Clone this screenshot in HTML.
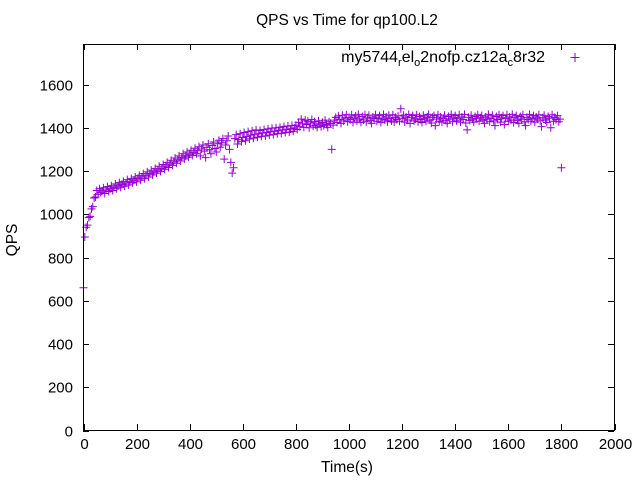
<!DOCTYPE html>
<html><head><meta charset="utf-8"><style>
body{margin:0;background:#fff}
svg{display:block;font-family:"Liberation Sans",sans-serif}
</style></head><body>
<svg id="chart" width="640" height="480">
<rect width="640" height="480" fill="#fff"/>
<text x="347" y="25" text-anchor="middle" font-size="15.5">QPS vs Time for qp100.L2</text>
<g id="axes"></g>
<g id="marks"></g>
<rect x="83.5" y="44.5" width="531" height="386" fill="none" stroke="#000"/>
<text x="545" y="62" text-anchor="end" font-size="16">my5744<tspan font-size="11" dy="4">r</tspan><tspan dy="-4">el</tspan><tspan font-size="11" dy="4">o</tspan><tspan dy="-4">2nofp.cz12a</tspan><tspan font-size="11" dy="4">c</tspan><tspan dy="-4">8r32</tspan></text>
<path d="M570.5 57.5h9M575 53v9" stroke="#9400d3"/>
<text x="347" y="472" text-anchor="middle" font-size="15.5">Time(s)</text>
<text transform="translate(17,240) rotate(-90)" text-anchor="middle" font-size="15.5">QPS</text>
</svg>
<script>
const xTicks=[0,200,400,600,800,1000,1200,1400,1600,1800,2000];
const yTicks=[0,200,400,600,800,1000,1200,1400,1600];
const timeStep=5;
const qps=[
660,895,940,950,985,990,1025,1035,1075,1080,1110,1092,1118,1100,1108,1122,1096,1112,1128,1105,
1118,1132,1110,1124,1140,1118,1132,1146,1125,1138,1152,1130,1144,1160,1136,1150,1165,1145,1158,1172,
1150,1166,1180,1158,1172,1188,1165,1180,1196,1172,1188,1204,1182,1196,1212,1190,1204,1222,1198,1212,
1230,1208,1222,1240,1216,1232,1250,1226,1242,1260,1236,1252,1270,1246,1262,1280,1256,1270,1288,1264,
1278,1296,1272,1286,1305,1280,1294,1312,1270,1302,1320,1292,1262,1310,1326,1298,1280,1318,1334,1304,
1288,1326,1342,1310,1330,1350,1255,1320,1340,1362,1300,1240,1190,1215,1350,1368,1325,1345,1372,1336,
1355,1378,1340,1360,1382,1348,1366,1386,1352,1370,1390,1356,1372,1388,1360,1376,1392,1362,1378,1395,
1366,1382,1398,1368,1384,1400,1372,1388,1402,1374,1390,1405,1378,1392,1408,1380,1394,1410,1384,1398,
1412,1392,1425,1405,1440,1418,1402,1435,1415,1430,1400,1422,1438,1408,1428,1412,1402,1432,1418,1405,
1425,1410,1435,1415,1402,1428,1420,1300,1412,1435,1448,1425,1455,1438,1420,1458,1432,1445,1460,1428,
1448,1438,1460,1425,1445,1455,1432,1462,1440,1425,1452,1436,1460,1428,1446,1458,1434,1420,1450,1442,
1460,1430,1445,1456,1425,1440,1462,1436,1450,1428,1458,1442,1432,1460,1426,1448,1438,1455,1430,1488,
1444,1458,1426,1450,1436,1462,1420,1446,1456,1432,1440,1460,1428,1452,1438,1424,1458,1444,1430,1450,
1462,1436,1422,1448,1456,1410,1440,1460,1430,1450,1426,1444,1458,1434,1420,1452,1440,1462,1428,1446,
1456,1432,1444,1460,1426,1450,1438,1462,1422,1390,1448,1434,1458,1440,1426,1452,1444,1460,1430,1446,
1456,1436,1420,1450,1440,1462,1428,1444,1458,1432,1410,1452,1438,1460,1426,1446,1456,1415,1442,1460,
1430,1450,1436,1462,1424,1446,1456,1434,1420,1452,1440,1460,1428,1410,1448,1438,1462,1430,1444,1456,
1426,1450,1440,1460,1432,1405,1446,1458,1436,1424,1452,1444,1400,1460,1430,1448,1438,1456,1428,1440,
1215];
const NS='http://www.w3.org/2000/svg';
const X=v=>83.5+v*531/2000;
const Y=v=>430.5-v*346/1600;
const axes=document.getElementById('axes');
const marks=document.getElementById('marks');
function mk(tag,attrs,parent){const e=document.createElementNS(NS,tag);for(const k in attrs)e.setAttribute(k,attrs[k]);parent.appendChild(e);return e;}
xTicks.forEach(v=>{
  const x=Math.round(X(v))+0.5;
  const t=mk('path',{d:`M${x} 430v-6M${x} 44v6`,stroke:'#000'},axes);
  
  
  const l=mk('text',{x:x,y:449,'text-anchor':'middle','font-size':15},axes);
  l.textContent=v;
  
  
});
yTicks.forEach(v=>{
  const y=Math.round(Y(v))+0.5;
  const t=mk('path',{d:`M83 ${y}h6M614 ${y}h-6`,stroke:'#000'},axes);
  
  
  const l=mk('text',{x:73,y:y+5,'text-anchor':'end','font-size':15},axes);
  l.textContent=v;
  
  
});
let d='';
qps.forEach((v,i)=>{const x=X(i*timeStep),y=Y(v);d+=`M${x-4} ${y}h8M${x} ${y-4}v8`;});
const p=mk('path',{d:d,stroke:'#9400d3','stroke-width':1,fill:'none'},marks);


</script>
</body></html>
